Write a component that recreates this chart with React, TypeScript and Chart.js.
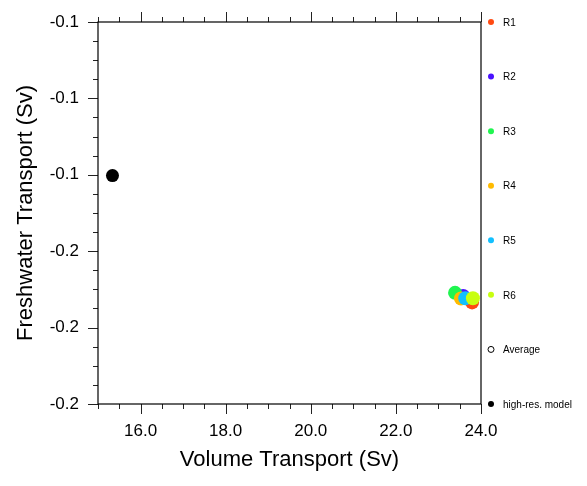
import React, { useEffect, useRef } from "react";
import { Chart, registerables } from "chart.js";

Chart.register(...registerables);

const seriesNames = ["R1", "R2", "R3", "R4", "R5", "R6"];
const seriesColors = ["#ff4a12", "#4a12ff", "#20f550", "#ffbb00", "#12c0ff", "#c8ff10"];
const volumeTransport = [23.79, 23.58, 23.39, 23.53, 23.63, 23.81];
const freshwaterTransport = [-0.1734, -0.1717, -0.1709, -0.1724, -0.1723, -0.1723];
const averageVolume = [23.62];
const averageFreshwater = [-0.1722];
const highResVolume = [15.34];
const highResFreshwater = [-0.1402];
const xTicks = [16, 18, 20, 22, 24];
const yTicks = [-0.1, -0.12, -0.14, -0.16, -0.18, -0.2];

const FONT = "'Liberation Sans', Arial, Helvetica, sans-serif";

const tickPlugin = {
  id: "nclTicks",
  afterDraw(chart: any) {
    const { ctx, chartArea } = chart;
    const xs = chart.scales.x;
    const ys = chart.scales.y;
    ctx.save();
    ctx.strokeStyle = "#222";
    ctx.lineWidth = 1;
    // x ticks (bottom + top)
    for (let v = 15; v <= 24.0001; v += 0.5) {
      const px = Math.round(xs.getPixelForValue(v)) + 0.5;
      const major = Math.abs(v / 2 - Math.round(v / 2)) < 1e-6;
      const len = major ? 10 : 5;
      ctx.beginPath();
      ctx.moveTo(px, chartArea.bottom);
      ctx.lineTo(px, chartArea.bottom + len);
      ctx.moveTo(px, chartArea.top);
      ctx.lineTo(px, chartArea.top - len);
      ctx.stroke();
    }
    // y ticks (left)
    for (let i = 0; i <= 20; i++) {
      const v = -0.1 - i * 0.005;
      const py = Math.round(ys.getPixelForValue(v)) + 0.5;
      const len = i % 4 === 0 ? 10 : 5;
      ctx.beginPath();
      ctx.moveTo(chartArea.left, py);
      ctx.lineTo(chartArea.left - len, py);
      ctx.stroke();
    }
    // frame
    ctx.strokeStyle = "#000";
    ctx.lineWidth = 1.2;
    ctx.strokeRect(chartArea.left, chartArea.top, chartArea.right - chartArea.left, chartArea.bottom - chartArea.top);

    // legend
    const items = chart.data.datasets;
    const n = items.length;
    const step = (chartArea.bottom - chartArea.top) / (n - 1);
    ctx.font = `10px ${FONT}`;
    ctx.textBaseline = "middle";
    ctx.textAlign = "left";
    items.forEach((ds: any, i: number) => {
      const y = chartArea.top + i * step;
      const x = chartArea.right + 10;
      ctx.beginPath();
      ctx.arc(x, y, 3, 0, Math.PI * 2);
      if (ds.label === "Average") {
        ctx.fillStyle = "#fff";
        ctx.fill();
        ctx.strokeStyle = "#000";
        ctx.lineWidth = 1;
        ctx.stroke();
      } else {
        ctx.fillStyle = ds.backgroundColor;
        ctx.fill();
      }
      ctx.fillStyle = "#000";
      ctx.fillText(ds.label, chartArea.right + 22, y + 1);
    });
    ctx.restore();
  },
};

export default function App() {
  const ref = useRef<HTMLCanvasElement>(null);
  useEffect(() => {
    const datasets: any[] = seriesNames.map((name, i) => ({
      label: name,
      data: [{ x: volumeTransport[i], y: freshwaterTransport[i] }],
      backgroundColor: seriesColors[i],
      borderWidth: 0,
      pointRadius: 7,
      order: 10 - i,
    }));
    datasets.push({
      label: "Average",
      data: averageVolume.map((v, i) => ({ x: v, y: averageFreshwater[i] })),
      backgroundColor: "#fff",
      borderColor: "#000",
      borderWidth: 1,
      pointRadius: 6,
      order: 20,
    });
    datasets.push({
      label: "high-res. model",
      data: highResVolume.map((v, i) => ({ x: v, y: highResFreshwater[i] })),
      backgroundColor: "#000",
      borderWidth: 0,
      pointRadius: 6.5,
      order: 1,
    });
    const chart = new Chart(ref.current!, {
      type: "scatter",
      data: { datasets },
      plugins: [tickPlugin],
      options: {
        animation: false,
        responsive: false,
        layout: { padding: { left: 0, right: 106, top: 22, bottom: 0 } },
        plugins: { legend: { display: false }, tooltip: { enabled: false } },
        scales: {
          x: {
            type: "linear",
            min: 15,
            max: 24,
            afterBuildTicks: (s: any) => {
              s.ticks = xTicks.map((v) => ({ value: v }));
            },
            afterFit: (s: any) => {
              s.height = 82;
              s.paddingLeft = 0;
              s.paddingRight = 0;
            },
            grid: { display: false, drawTicks: false },
            border: { display: false },
            ticks: {
              color: "#000",
              font: { family: FONT, size: 17 },
              padding: 17,
              maxRotation: 0,
              callback: (v: any) => Number(v).toFixed(1),
            },
            title: {
              display: true,
              text: "Volume Transport (Sv)",
              color: "#000",
              font: { family: FONT, size: 22 },
              padding: { top: 4, bottom: 13 },
            },
          },
          y: {
            type: "linear",
            min: -0.2,
            max: -0.1,
            afterBuildTicks: (s: any) => {
              s.ticks = yTicks.map((v) => ({ value: v }));
            },
            afterFit: (s: any) => {
              s.width = 98;
              s.paddingTop = 0;
              s.paddingBottom = 0;
            },
            grid: { display: false, drawTicks: false },
            border: { display: false },
            ticks: {
              color: "#000",
              font: { family: FONT, size: 17 },
              padding: 19,
              callback: (v: any) => Number(v).toFixed(1),
            },
            title: {
              display: true,
              text: "Freshwater Transport (Sv)",
              color: "#000",
              font: { family: FONT, size: 22 },
              padding: { top: 13, bottom: 4 },
            },
          },
        },
      },
    });
    return () => chart.destroy();
  }, []);
  return (
    <div style={{ position: "fixed", left: 0, top: 0, width: 587, height: 486, background: "#fff" }}>
      <canvas ref={ref} width={587} height={486} />
    </div>
  );
}
